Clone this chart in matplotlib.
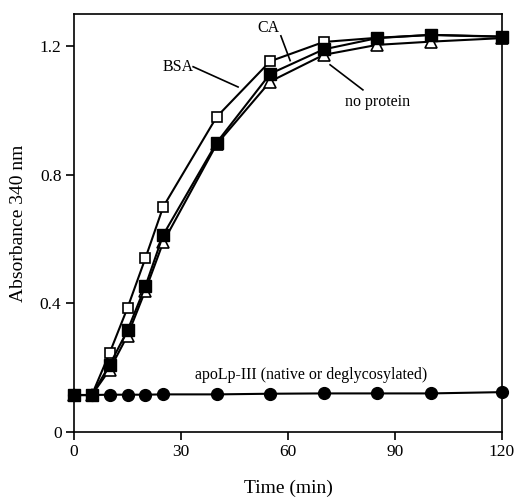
import matplotlib
matplotlib.use("Agg")
import matplotlib.pyplot as plt

plt.rcParams['font.family'] = ['Liberation Serif', 'DejaVu Serif']

time = [0, 5, 10, 15, 20, 25, 40, 55, 70, 85, 100, 120]
bsa = [0.115, 0.115, 0.246, 0.386, 0.54, 0.70, 0.98, 1.153, 1.213, 1.226, 1.235, 1.23]
ca = [0.115, 0.115, 0.209, 0.316, 0.453, 0.613, 0.90, 1.114, 1.19, 1.225, 1.235, 1.229]
no_protein = [0.115, 0.115, 0.194, 0.30, 0.44, 0.59, 0.895, 1.09, 1.173, 1.204, 1.214, 1.225]
apolp = [0.115, 0.115, 0.116, 0.116, 0.116, 0.117, 0.117, 0.119, 0.12, 0.12, 0.12, 0.124]

xticks = [0, 30, 60, 90, 120]
yticks = [0, 0.4, 0.8, 1.2]
yticklabels = ['0', '0.4', '0.8', '1.2']

fig = plt.figure(figsize=(5.17, 4.99), dpi=100)
ax = fig.add_axes([74/517, 67/499, 428/517, 418/499])

lw = 1.5
ax.plot(time, apolp, '-', color='black', lw=lw, marker='o', ms=8.5,
        mfc='black', mec='black', clip_on=False, zorder=3)
ax.plot(time, no_protein, '-', color='black', lw=lw, marker='^', ms=8,
        mfc='white', mec='black', mew=1.2, clip_on=False, zorder=4)
ax.plot(time, bsa, '-', color='black', lw=lw, marker='s', ms=7.5,
        mfc='white', mec='black', mew=1.2, clip_on=False, zorder=5)
ax.plot(time, ca, '-', color='black', lw=lw, marker='s', ms=8,
        mfc='black', mec='black', clip_on=False, zorder=6)

ax.set_xlim(0, 120)
ax.set_ylim(0, 1.3)
ax.set_xticks(xticks)
ax.set_yticks(yticks)
ax.set_yticklabels(yticklabels)
ax.tick_params(direction='out', length=6, width=1.2, labelsize=12.5, pad=3)
ax.tick_params(top=False, right=False)
for s in ax.spines.values():
    s.set_linewidth(1.2)

ax.set_xlabel('Time (min)', fontsize=14, labelpad=14)
ax.set_ylabel('Absorbance 340 nm', fontsize=14, labelpad=9)

ax.text(54.4, 1.257, 'CA', fontsize=11.5, ha='center', va='center')
ax.plot([58, 60.6], [1.232, 1.155], color='black', lw=1.2)
ax.text(29.2, 1.136, 'BSA', fontsize=11.5, ha='center', va='center')
ax.plot([33.4, 46.0], [1.136, 1.073], color='black', lw=1.2)
ax.text(85, 1.027, 'no protein', fontsize=11.5, ha='center', va='center')
ax.plot([71.8, 81.0], [1.142, 1.064], color='black', lw=1.2)
ax.text(66.6, 0.178, 'apoLp-III (native or deglycosylated)', fontsize=11.5,
        ha='center', va='center')

fig.savefig('out.png', dpi=100)
